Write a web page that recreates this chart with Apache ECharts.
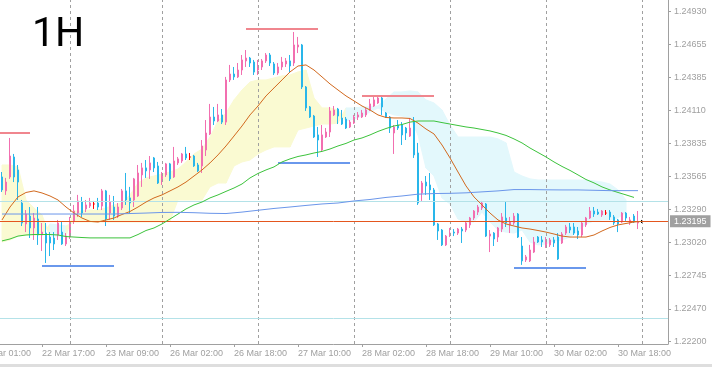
<!DOCTYPE html>
<html><head><meta charset="utf-8">
<script src="https://cdn.jsdelivr.net/npm/echarts@6/dist/echarts.min.js"></script>
<style>html,body{margin:0;padding:0;background:#fff;overflow:hidden}#c{width:712px;height:368px}</style>
</head><body><div id="c"></div>
<script>
// ---------- data ----------
const tickLabels = ['22 Mar 01:00','22 Mar 17:00','23 Mar 09:00','26 Mar 02:00','26 Mar 18:00','27 Mar 10:00','28 Mar 02:00','28 Mar 18:00','29 Mar 10:00','30 Mar 02:00','30 Mar 18:00'];
const labelEvery = 16;
const slotCount = 173;
const firstBar = 6;               // slot of the first candle (22 Mar 07:00)
const priceTicks = [1.24930,1.24655,1.24385,1.24110,1.23835,1.23565,1.23290,1.23020,1.22745,1.22470,1.22200];

const open = [1.23560,1.23445,1.23560,1.23725,1.23618,1.23345,1.23172,1.23237,1.23139,1.23213,
1.23081,1.23097,1.23064,1.23056,1.23081,1.23105,1.23007,1.23064,1.23197,1.23262,
1.23353,1.23296,1.23320,1.23337,1.23345,1.23320,1.23445,1.23262,1.23312,1.23237,
1.23304,1.23445,1.23387,1.23370,1.23403,1.23577,1.23635,1.23618,1.23717,1.23651,
1.23535,1.23577,1.23668,1.23560,1.23676,1.23692,1.23750,1.23725,1.23733,1.23659,
1.23651,1.23783,1.23915,1.24055,1.24022,1.24072,1.24013,1.24361,1.24410,1.24386,
1.24443,1.24518,1.24542,1.24509,1.24443,1.24468,1.24518,1.24567,1.24493,1.24418,
1.24468,1.24493,1.24518,1.24501,1.24633,1.24650,1.24303,1.24138,1.24063,1.23907,
1.23783,1.23890,1.23931,1.24072,1.24121,1.24047,1.24038,1.23973,1.24005,1.24055,
1.24055,1.24072,1.24113,1.24146,1.24171,1.24212,1.24088,1.24055,1.23923,1.23989,
1.23989,1.23964,1.23898,1.24022,1.23758,1.23428,1.23518,1.23494,1.23453,1.23172,
1.23122,1.22999,1.23081,1.23105,1.23097,1.23130,1.23122,1.23164,1.23221,1.23270,
1.23304,1.23337,1.23072,1.23097,1.23064,1.23130,1.23221,1.23164,1.23180,1.23254,
1.22990,1.22875,1.22867,1.22940,1.23064,1.23040,1.22990,1.22999,1.23040,1.23064,
1.23015,1.23097,1.23147,1.23147,1.23114,1.23081,1.23164,1.23221,1.23279,1.23270,
1.23246,1.23262,1.23270,1.23230,1.23205,1.23188,1.23262,1.23180,1.23237,1.23180,
1.23195];
const high = [1.23601,1.23552,1.23882,1.23750,1.23659,1.23370,1.23287,1.23312,1.23262,1.23312,
1.23180,1.23180,1.23105,1.23105,1.23205,1.23188,1.23097,1.23230,1.23329,1.23412,
1.23395,1.23370,1.23387,1.23362,1.23387,1.23461,1.23453,1.23412,1.23403,1.23345,
1.23461,1.23593,1.23478,1.23552,1.23659,1.23676,1.23700,1.23733,1.23725,1.23684,
1.23601,1.23676,1.23676,1.23808,1.23725,1.23758,1.23808,1.23758,1.23742,1.23676,
1.23865,1.24030,1.24163,1.24138,1.24163,1.24121,1.24386,1.24485,1.24468,1.24501,
1.24567,1.24608,1.24551,1.24526,1.24526,1.24534,1.24583,1.24583,1.24509,1.24501,
1.24551,1.24542,1.24567,1.24757,1.24716,1.24658,1.24311,1.24146,1.24072,1.23973,
1.23989,1.23964,1.24138,1.24146,1.24130,1.24113,1.24055,1.24030,1.24072,1.24096,
1.24113,1.24130,1.24204,1.24221,1.24229,1.24221,1.24096,1.24063,1.23989,1.24030,
1.24013,1.23973,1.24047,1.24055,1.23841,1.23527,1.23568,1.23593,1.23469,1.23180,
1.23130,1.23081,1.23139,1.23130,1.23139,1.23147,1.23188,1.23230,1.23287,1.23329,
1.23362,1.23345,1.23122,1.23105,1.23147,1.23262,1.23353,1.23230,1.23262,1.23262,
1.23064,1.22916,1.22999,1.23064,1.23072,1.23072,1.23064,1.23056,1.23064,1.23097,
1.23105,1.23164,1.23180,1.23180,1.23147,1.23188,1.23230,1.23312,1.23312,1.23296,
1.23287,1.23287,1.23287,1.23246,1.23213,1.23270,1.23270,1.23230,1.23254,1.23279,
1.23205];
const low = [1.23436,1.23412,1.23544,1.23518,1.23370,1.23155,1.23105,1.23056,1.23040,1.22999,
1.22949,1.22850,1.22907,1.22957,1.23040,1.22999,1.22990,1.23048,1.23172,1.23230,
1.23230,1.23270,1.23304,1.23296,1.23287,1.23287,1.23155,1.23205,1.23205,1.23221,
1.23287,1.23329,1.23262,1.23312,1.23395,1.23478,1.23552,1.23544,1.23601,1.23502,
1.23494,1.23560,1.23527,1.23552,1.23659,1.23676,1.23700,1.23700,1.23643,1.23601,
1.23593,1.23733,1.23906,1.23989,1.24013,1.23997,1.23989,1.24344,1.24361,1.24377,
1.24402,1.24468,1.24468,1.24402,1.24402,1.24443,1.24501,1.24476,1.24402,1.24402,
1.24443,1.24468,1.24426,1.24476,1.24583,1.24286,1.24105,1.24047,1.23882,1.23725,
1.23766,1.23882,1.23890,1.24063,1.23997,1.23989,1.23956,1.23964,1.23997,1.24030,
1.24047,1.24055,1.24105,1.24138,1.24163,1.24072,1.24047,1.23923,1.23750,1.23948,
1.23824,1.23865,1.23890,1.23717,1.23329,1.23362,1.23412,1.23370,1.23155,1.23040,
1.22990,1.22990,1.23064,1.23072,1.23081,1.23015,1.23105,1.23139,1.23205,1.23246,
1.23287,1.23064,1.22940,1.22990,1.23023,1.23105,1.23147,1.23097,1.23164,1.23056,
1.22834,1.22858,1.22858,1.22932,1.23015,1.22982,1.22974,1.22982,1.22982,1.22875,
1.23007,1.23081,1.23097,1.23081,1.23048,1.23064,1.23147,1.23213,1.23230,1.23246,
1.23230,1.23246,1.23205,1.23164,1.23105,1.23180,1.23197,1.23164,1.23180,1.23130,
1.23180];
const close = [1.23453,1.23518,1.23733,1.23560,1.23518,1.23180,1.23254,1.23139,1.23221,1.23081,
1.23105,1.23015,1.23015,1.23007,1.23180,1.23007,1.23072,1.23188,1.23279,1.23362,
1.23262,1.23329,1.23345,1.23337,1.23312,1.23445,1.23213,1.23353,1.23237,1.23312,
1.23445,1.23370,1.23345,1.23544,1.23593,1.23635,1.23610,1.23676,1.23635,1.23510,
1.23585,1.23668,1.23544,1.23692,1.23709,1.23750,1.23717,1.23725,1.23651,1.23610,
1.23816,1.23923,1.24055,1.24022,1.24072,1.24013,1.24361,1.24410,1.24386,1.24443,
1.24526,1.24542,1.24501,1.24426,1.24468,1.24518,1.24567,1.24501,1.24418,1.24468,
1.24509,1.24518,1.24476,1.24650,1.24650,1.24303,1.24130,1.24055,1.23890,1.23865,
1.23907,1.23931,1.24105,1.24113,1.24063,1.23997,1.23964,1.24013,1.24055,1.24072,
1.24088,1.24113,1.24163,1.24196,1.24212,1.24138,1.24055,1.23964,1.23973,1.23964,
1.23907,1.23923,1.23964,1.23742,1.23345,1.23510,1.23486,1.23453,1.23164,1.23114,
1.22999,1.23072,1.23097,1.23097,1.23130,1.23114,1.23180,1.23221,1.23279,1.23312,
1.23345,1.23072,1.23089,1.23048,1.23139,1.23230,1.23180,1.23188,1.23237,1.23064,
1.22867,1.22900,1.22957,1.23023,1.23023,1.23023,1.23040,1.23040,1.23015,1.22883,
1.23089,1.23147,1.23122,1.23097,1.23081,1.23180,1.23221,1.23279,1.23254,1.23254,
1.23279,1.23262,1.23230,1.23180,1.23172,1.23262,1.23221,1.23205,1.23188,1.23188,
1.23195];

// indicator lines, one value every 2 bars (from bar 0)
const indStep = 2;
const maFast = [1.23205,1.23312,1.23395,1.23432,1.23445,1.23428,1.23403,1.23370,1.23312,1.23262,
1.23221,1.23193,1.23188,1.23205,1.23221,1.23250,1.23275,1.23312,1.23353,1.23387,
1.23412,1.23445,1.23478,1.23518,1.23568,1.23618,1.23676,1.23742,1.23816,1.23898,
1.23981,1.24072,1.24146,1.24229,1.24295,1.24361,1.24427,1.24476,1.24485,1.24443,
1.24386,1.24328,1.24278,1.24229,1.24188,1.24146,1.24113,1.24072,1.24051,1.24047,
1.24047,1.24043,1.24005,1.23956,1.23915,1.23824,1.23717,1.23601,1.23486,1.23395,
1.23329,1.23262,1.23205,1.23172,1.23155,1.23139,1.23130,1.23118,1.23105,1.23089,
1.23072,1.23064,1.23064,1.23064,1.23081,1.23114,1.23143,1.23164,1.23176,1.23188,1.23193];
const maMid = [1.23032,1.23048,1.23072,1.23081,1.23085,1.23085,1.23085,1.23081,1.23068,1.23064,
1.23060,1.23057,1.23057,1.23057,1.23057,1.23057,1.23057,1.23085,1.23118,1.23139,
1.23172,1.23213,1.23254,1.23296,1.23329,1.23353,1.23387,1.23412,1.23441,1.23469,
1.23502,1.23552,1.23589,1.23618,1.23643,1.23684,1.23709,1.23729,1.23742,1.23758,
1.23771,1.23791,1.23816,1.23837,1.23865,1.23882,1.23907,1.23936,1.23960,1.23981,
1.23993,1.24013,1.24022,1.24022,1.24022,1.24009,1.23997,1.23985,1.23973,1.23964,
1.23952,1.23940,1.23923,1.23903,1.23874,1.23841,1.23799,1.23762,1.23725,1.23684,
1.23647,1.23614,1.23577,1.23539,1.23511,1.23478,1.23453,1.23432,1.23412,1.23391];
// slow average: [bar, value]
const maSlow = [[0,1.23254],[4,1.23254],[8,1.23254],[12,1.23254],[16,1.23254],[20,1.23254],[24,1.23254],[28,1.23254],
[32,1.23258],[36,1.23262],[40,1.23267],[44,1.23268],[48,1.23265],[52,1.23260],[56,1.23258],[60,1.23270],
[64,1.23285],[68,1.23300],[72,1.23312],[76,1.23325],[80,1.23337],[84,1.23345],[88,1.23362],[92,1.23374],
[96,1.23391],[100,1.23403],[104,1.23418],[108,1.23423],[112,1.23425],[116,1.23429],[120,1.23437],[124,1.23445],
[128,1.23456],[132,1.23456],[136,1.23454],[140,1.23453],[144,1.23453],[148,1.23450],[152,1.23447],[156,1.23447],[159,1.23447]];
// ichimoku spans (already shifted), one value every 2 bars
const spanA = [1.23659,1.23659,1.23643,1.23370,1.23304,1.23246,1.23072,1.23072,1.23072,1.23279,
1.23279,1.23287,1.23287,1.23304,1.23329,1.23345,1.23412,1.23510,1.23552,1.23568,
1.23585,1.23601,1.23626,1.23684,1.23750,1.23791,1.23890,1.24022,1.24088,1.24196,
1.24278,1.24344,1.24361,1.24361,1.24377,1.24394,1.24402,1.24427,1.24443,1.24212,
1.24130,1.24130,1.24113,1.24022,1.24038,1.24063,1.24096,1.24130,1.24096,1.24072,
1.24063,1.24047,1.23907,1.23634,1.23568,1.23387,1.23337,1.23213,1.23188,1.23188,
1.23270,1.23188,1.23122,1.23105,1.23097,1.23122,1.23023,1.22999,1.23007,1.23032,
1.23040,1.23064,1.23114,1.23172,1.23197,1.23205,1.23205,1.23221,1.23270];
const spanB = [1.23023,1.23040,1.23072,1.23081,1.23081,1.23081,1.23172,1.23164,1.23155,1.23188,
1.23188,1.23188,1.23188,1.23188,1.23188,1.23188,1.23188,1.23188,1.23188,1.23188,
1.23188,1.23197,1.23370,1.23370,1.23370,1.23370,1.23478,1.23510,1.23510,1.23651,
1.23684,1.23700,1.23750,1.23783,1.23808,1.23808,1.23808,1.23948,1.23964,1.23981,
1.23997,1.23997,1.24005,1.24130,1.24130,1.24138,1.24138,1.24146,1.24204,1.24262,
1.24262,1.24270,1.24262,1.24196,1.24171,1.24113,1.23989,1.23890,1.23890,1.23890,
1.23890,1.23890,1.23874,1.23841,1.23601,1.23568,1.23544,1.23535,1.23535,1.23535,
1.23535,1.23535,1.23535,1.23535,1.23527,1.23518,1.23502,1.23453,1.23370];

// drawn objects: [fromBar, toBar, price]
const resistance = [[-1,7,1.23923],[61,79,1.24782],[90,108,1.24229]];
const support = [[10,28,1.22828],[69,87,1.23675],[128,146,1.22813]];
const hLevels = [1.23362, 1.22396];
const lastPrice = 1.23195;
const daySepBars = [17,40,64,88,112,136,160];

// ---------- colours ----------
const C = {
  up:'#f26fb0', down:'#29b6ea', doji:'#ff0000', last:'#000000',
  fast:'#d2691e', mid:'#3cc33c', slow:'#6b96ea',
  cloudUp:'#fafad2', cloudDn:'#e3f8fc',
  res:'#f0868e', sup:'#6a98ec', level:'#b4e2e8', price:'#e4561e',
  axis:'#a0a0a0'
};

// ---------- build ----------
const slots = Array.from({length: slotCount}, (_, i) => i);
const candleData = open.map((o, k) => {
  const it = {value: [k + firstBar, o, close[k], low[k], high[k]]};
  if (o === close[k]) {
    const col = k === open.length - 1 ? C.last : C.doji;
    it.itemStyle = {color: col, color0: col, borderColor: col, borderColor0: col};
  }
  return it;
});
const lineData = arr => arr.map((v, j) => [j * indStep + firstBar, v]);
const cloudData = [];
for (let j = 0; j < spanA.length - 1; j++) {
  cloudData.push([j*indStep + firstBar, spanA[j], spanB[j], (j+1)*indStep + firstBar, spanA[j+1], spanB[j+1]]);
}
const seg = (list, color) => list.map(s => [
  {coord: [s[0] + firstBar, s[2]], lineStyle: {color, width: 2, type: 'solid'}},
  {coord: [s[1] + firstBar, s[2]]}
]);
const font = 'Liberation Sans';

const chart = echarts.init(document.getElementById('c'), null, {renderer: 'canvas'});
chart.setOption({
  animation: false,
  backgroundColor: '#ffffff',
  grid: {left: -24, right: 44, top: 0, bottom: 24, containLabel: false, outerBoundsMode: 'none'},
  xAxis: {
    type: 'category', data: slots, boundaryGap: true,
    axisLine: {show: true, onZero: false, lineStyle: {color: C.axis}},
    axisTick: {show: true, alignWithLabel: true, length: 3, interval: i => i % labelEvery === 0, lineStyle: {color: C.axis}},
    axisLabel: {interval: i => i % labelEvery === 0, formatter: (v, i) => tickLabels[i / labelEvery] || '',
      align: 'left', color: C.axis, fontSize: 9, fontFamily: font, margin: 5, hideOverlap: false},
    splitLine: {show: false}
  },
  yAxis: {
    type: 'value', position: 'right', min: 1.22181, max: 1.25021,
    axisLine: {show: true, lineStyle: {color: C.axis}},
    axisTick: {show: true, length: 3, customValues: priceTicks, lineStyle: {color: C.axis}},
    axisLabel: {customValues: priceTicks, formatter: v => v.toFixed(5), color: C.axis, fontSize: 9, fontFamily: font, margin: 6},
    splitLine: {show: false}
  },
  graphic: [
    {type: 'text', left: 32, top: 15, z: 100, style: {text: '1H', font: '400 41px Roboto', fill: '#000'}},
    {type: 'rect', left: 0, top: 364, z: 100, shape: {width: 712, height: 3}, style: {fill: '#dedede'}}
  ],
  series: [
    {type: 'line', data: [], z: 1, silent: true,
      markLine: {symbol: ['none','none'], silent: true, animation: false, precision: 5, label: {show: false},
        lineStyle: {color: C.axis, type: [3,3], width: 1},
        data: daySepBars.map(b => ({xAxis: b + firstBar}))}},
    {type: 'custom', z: 2, silent: true, clip: true, data: cloudData,
      encode: {x: [0,3], y: [1,2,4,5]},
      renderItem: (params, api) => {
        const a1 = api.value(1), b1 = api.value(2), a2 = api.value(4), b2 = api.value(5);
        const p1 = api.coord([api.value(0), a1]), p2 = api.coord([api.value(3), a2]);
        const p3 = api.coord([api.value(3), b2]), p4 = api.coord([api.value(0), b1]);
        const col = (a1 + a2) >= (b1 + b2) ? C.cloudUp : C.cloudDn;
        return {type: 'polygon', shape: {points: [p1,p2,p3,p4]}, style: {fill: col, stroke: col, lineWidth: 1}};
      }},
    {type: 'line', data: [], z: 3, silent: true,
      markLine: {symbol: ['none','none'], silent: true, animation: false, precision: 5, label: {show: false},
        data: [
          ...hLevels.map(v => ({yAxis: v, lineStyle: {color: C.level, width: 1, type: 'solid'}})),
          {yAxis: lastPrice, lineStyle: {color: C.price, width: 1, type: 'solid'},
            label: {show: true, position: 'end', formatter: lastPrice.toFixed(5), color: '#fff',
              backgroundColor: '#a0a0a0', padding: [2,4,1,4], fontSize: 9, fontFamily: font, distance: 2}}
        ]}},
    {type: 'candlestick', z: 4, data: candleData, encode: {x: 0, y: [1,2,3,4]}, barWidth: 2,
      itemStyle: {color: C.up, color0: C.down, borderColor: C.up, borderColor0: C.down, borderWidth: 1}},
    {type: 'line', z: 5, data: lineData(maFast), symbol: 'none', lineStyle: {color: C.fast, width: 1}, silent: true},
    {type: 'line', z: 5, data: lineData(maMid), symbol: 'none', lineStyle: {color: C.mid, width: 1}, silent: true},
    {type: 'line', z: 5, data: maSlow.map(p => [p[0] + firstBar, p[1]]), symbol: 'none', lineStyle: {color: C.slow, width: 1}, silent: true},
    {type: 'line', data: [], z: 6, silent: true,
      markLine: {symbol: ['none','none'], silent: true, animation: false, precision: 5, label: {show: false},
        data: [...seg(resistance, C.res), ...seg(support, C.sup)]}}
  ]
});
</script>
</body></html>
